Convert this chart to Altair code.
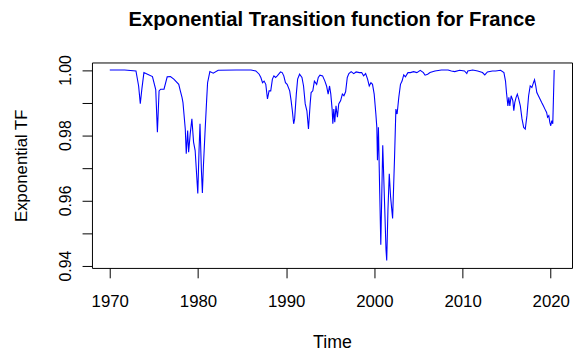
import altair as alt
import pandas as pd

# Time (years) and exponential transition function values
time = [
    1970.00, 1971.68, 1972.97, 1973.27, 1973.46, 1973.64, 1973.87, 1974.28, 1974.84, 1975.21,
    1975.40, 1975.59, 1975.77, 1976.15, 1976.51, 1976.88, 1977.26, 1977.82, 1978.00, 1978.19,
    1978.30, 1978.38, 1978.56, 1978.67, 1978.83, 1978.94, 1979.12, 1979.31, 1979.50, 1979.68,
    1979.98, 1980.12, 1980.23, 1980.39, 1980.50, 1980.61, 1980.79, 1980.98, 1981.09, 1981.35,
    1981.73, 1982.29, 1984.33, 1986.01, 1986.56, 1986.94, 1987.13, 1987.32, 1987.50, 1987.69,
    1987.88, 1988.06, 1988.25, 1988.44, 1988.61, 1988.80, 1988.99, 1989.36, 1989.55, 1989.73,
    1989.92, 1990.11, 1990.40, 1990.56, 1990.70, 1990.85, 1990.96, 1991.15, 1991.30, 1991.52,
    1991.79, 1991.97, 1992.16, 1992.35, 1992.53, 1992.72, 1992.83, 1993.02, 1993.20, 1993.46,
    1993.64, 1993.83, 1994.13, 1994.39, 1994.58, 1994.76, 1994.92, 1995.06, 1995.21, 1995.29,
    1995.40, 1995.51, 1995.65, 1995.81, 1995.96, 1996.18, 1996.37, 1996.55, 1996.74, 1996.93,
    1997.11, 1997.37, 1997.66, 1997.93, 1998.30, 1998.56, 1998.78, 1999.01, 1999.23, 1999.42,
    1999.61, 1999.79, 1999.98, 2000.17, 2000.28, 2000.35, 2000.46, 2000.61, 2000.73, 2000.95,
    2001.17, 2001.32, 2001.40, 2001.54, 2001.69, 2001.84, 2002.07, 2002.29, 2002.44, 2002.58,
    2002.77, 2002.96, 2003.14, 2003.33, 2003.52, 2003.81, 2004.08, 2004.45, 2004.82, 2005.20,
    2005.56, 2005.75, 2006.04, 2006.31, 2006.87, 2007.61, 2008.36, 2008.73, 2009.11, 2009.67,
    2010.22, 2010.48, 2010.59, 2011.15, 2011.71, 2012.26, 2012.52, 2012.82, 2013.38, 2013.75,
    2014.31, 2014.69, 2014.87, 2014.98, 2015.14, 2015.25, 2015.36, 2015.51, 2015.70, 2015.81,
    2015.92, 2016.07, 2016.21, 2016.37, 2016.55, 2016.74, 2016.93, 2017.11, 2017.30, 2017.49,
    2017.67, 2017.86, 2018.04, 2018.16, 2018.30, 2018.42, 2018.60, 2018.78, 2018.97, 2019.16,
    2019.34, 2019.53, 2019.64, 2019.78, 2019.89, 2020.00, 2020.12, 2020.23, 2020.39,
]

tf = [
    1.0000, 1.0000, 0.9997, 0.9951, 0.9897, 0.9942, 0.9992, 0.9987, 0.9980, 0.9940,
    0.9809, 0.9936, 0.9941, 0.9941, 0.9979, 0.9980, 0.9972, 0.9956, 0.9936, 0.9916,
    0.9900, 0.9875, 0.9819, 0.9743, 0.9814, 0.9748, 0.9804, 0.9850, 0.9779, 0.9753,
    0.9621, 0.9753, 0.9835, 0.9692, 0.9623, 0.9702, 0.9804, 0.9906, 0.9961, 0.9995,
    0.9990, 0.9999, 1.0000, 1.0000, 0.9997, 0.9987, 0.9977, 0.9961, 0.9966, 0.9956,
    0.9911, 0.9936, 0.9936, 0.9972, 0.9982, 0.9977, 0.9982, 0.9994, 0.9992, 0.9982,
    0.9961, 0.9956, 0.9936, 0.9906, 0.9875, 0.9835, 0.9850, 0.9926, 0.9972, 0.9987,
    0.9977, 0.9951, 0.9896, 0.9875, 0.9819, 0.9896, 0.9931, 0.9936, 0.9966, 0.9956,
    0.9977, 0.9984, 0.9982, 0.9966, 0.9951, 0.9926, 0.9951, 0.9926, 0.9880, 0.9835,
    0.9880, 0.9840, 0.9890, 0.9855, 0.9896, 0.9906, 0.9926, 0.9921, 0.9933, 0.9977,
    0.9989, 0.9995, 0.9989, 0.9994, 0.9992, 0.9992, 0.9982, 0.9989, 0.9972, 0.9951,
    0.9961, 0.9956, 0.9926, 0.9865, 0.9824, 0.9723, 0.9824, 0.9621, 0.9464, 0.9769,
    0.9580, 0.9449, 0.9416, 0.9571, 0.9682, 0.9611, 0.9545, 0.9733, 0.9880, 0.9865,
    0.9916, 0.9956, 0.9966, 0.9985, 0.9979, 0.9992, 0.9992, 0.9995, 0.9992, 0.9999,
    0.9992, 0.9984, 0.9987, 0.9992, 0.9997, 1.0000, 1.0000, 0.9997, 0.9995, 0.9999,
    0.9997, 0.9989, 0.9997, 1.0000, 0.9997, 0.9992, 0.9985, 0.9994, 0.9997, 0.9997,
    0.9999, 0.9992, 0.9966, 0.9931, 0.9890, 0.9916, 0.9890, 0.9921, 0.9906, 0.9875,
    0.9900, 0.9916, 0.9926, 0.9911, 0.9890, 0.9850, 0.9824, 0.9819, 0.9860, 0.9921,
    0.9951, 0.9946, 0.9961, 0.9970, 0.9951, 0.9931, 0.9921, 0.9911, 0.9900, 0.9890,
    0.9880, 0.9870, 0.9855, 0.9860, 0.9840, 0.9829, 0.9845, 0.9835, 1.0000,
]

x_ticks = [1970, 1980, 1990, 2000, 2010, 2020]
y_ticks = [0.94, 0.95, 0.96, 0.97, 0.98, 0.99, 1.00]

df = pd.DataFrame({"Time": time, "TF": tf})

FONT = "Liberation Sans"

chart = (
    alt.Chart(df)
    .mark_line(color="#0000ff", strokeWidth=1.1)
    .encode(
        x=alt.X(
            "Time:Q",
            scale=alt.Scale(domain=[1967.98, 2022.41], nice=False, zero=False),
            axis=alt.Axis(
                values=x_ticks,
                format="d",
                title="Time",
                grid=False,
                domain=False,
                tickSize=10,
                tickColor="black",
                labelColor="black",
                labelFontSize=17,
                labelPadding=16,
                labelFlush=False,
                labelOverlap=False,
                titleFontSize=18,
                titleFontWeight="normal",
                titleColor="black",
                titleY=76,
                titleBaseline="middle",
            ),
        ),
        y=alt.Y(
            "TF:Q",
            scale=alt.Scale(domain=[0.9393, 1.0023], nice=False, zero=False),
            axis=alt.Axis(
                values=y_ticks,
                labelExpr="(round(datum.value*100) % 2 == 0) ? format(datum.value, '.2f') : ''",
                title="Exponential TF",
                grid=False,
                domain=False,
                tickSize=10,
                tickColor="black",
                labelColor="black",
                labelFontSize=16,
                labelAngle=270,
                labelAlign="center",
                labelBaseline="alphabetic",
                labelPadding=12,
                labelFlush=False,
                labelOverlap=False,
                titleFontSize=17,
                titleFontWeight="normal",
                titleColor="black",
                titleAngle=270,
                titleX=-71,
                titleY=104,
                titleBaseline="middle",
                titleAlign="center",
            ),
        ),
    )
    .properties(
        width=486,
        height=208,
        autosize=alt.AutoSizeParams(type="none"),
        padding={"left": 85, "top": 53, "right": 1, "bottom": 88},
        title=alt.TitleParams(
            "Exponential Transition function for France",
            fontSize=20.5,
            fontWeight="bold",
            anchor="middle",
            frame="group",
            baseline="alphabetic",
            offset=8,
            color="black",
            font=FONT,
        ),
    )
    .configure(font=FONT)
    .configure_view(stroke="black", strokeWidth=1)
    .configure_axis(labelFont=FONT, titleFont=FONT)
)

chart.save("out.html", embed_options={"renderer": "svg", "actions": False})
